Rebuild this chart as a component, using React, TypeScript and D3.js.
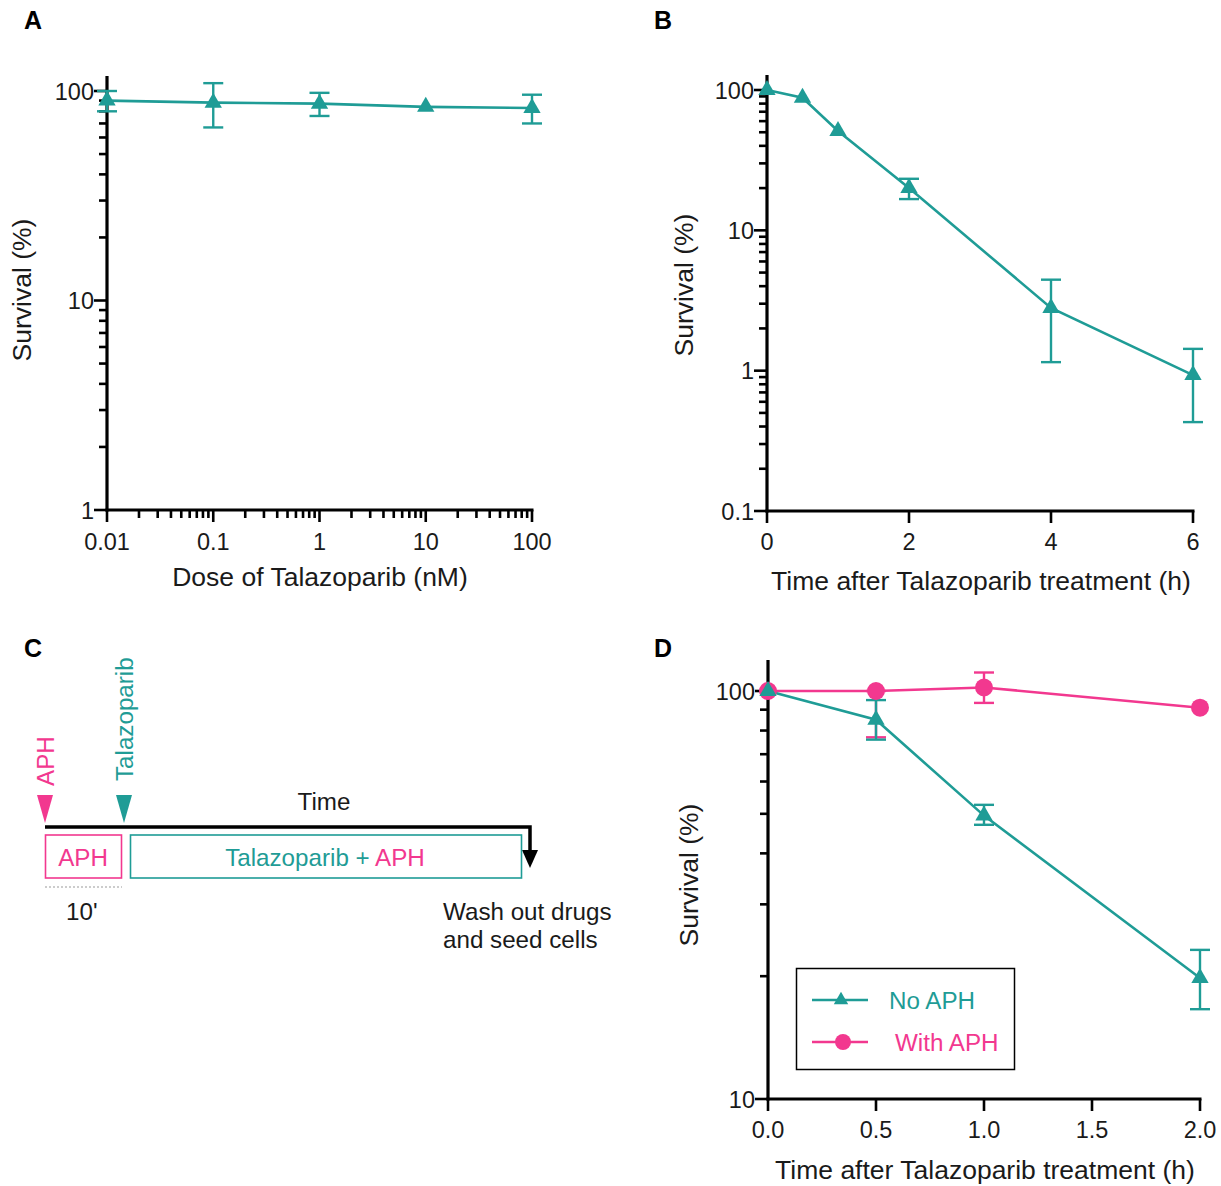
import React from 'react';
import * as d3 from 'd3';

const TEAL = '#1f9c96';
const PINK = '#f2388f';
const INK = '#1a1a1a';
const FONT = "'Liberation Sans', Arial, Helvetica, sans-serif";
const TICK_FS = 23.5;
const LABEL_FS = 26.5;
const TEXT_FS = 24.2;
const LETTER_FS = 25;

// Panel A: dose response
const doseA = [0.01, 0.1, 1, 10, 100];
const survA = [90, 88, 87, 84, 83];
const sdA = [10, 21, 11, 2, 13];
const ticksAx = [0.01, 0.1, 1, 10, 100];
const ticksAy = [1, 10, 100];

// Panel B: time course
const timeB = [0, 0.5, 1, 2, 4, 6];
const survB = [100, 88, 51, 20, 2.8, 0.93];
const sdB = [0, 3, 3, 3.3, 1.65, 0.5];
const ticksBx = [0, 2, 4, 6];
const ticksBy = [0.1, 1, 10, 100];

// Panel D: with / without APH
const timeD = [0, 0.5, 1, 2];
const noAPH = [100, 85, 49.5, 19.8];
const noAPHLow = [100, 76, 47, 16.6];
const noAPHHigh = [100, 95, 52.6, 23.2];
const withAPH = [100, 100, 102, 91];
const withAPHLow = [100, 77, 93.5, 91];
const withAPHHigh = [100, 100, 111, 91];
const ticksDx = [0, 0.5, 1, 1.5, 2];
const ticksDy = [10, 100];
const seriesNames = ['No APH', 'With APH'];

const tri = d3.symbol().type(d3.symbolTriangle).size(130)() as string;
const triSmall = d3.symbol().type(d3.symbolTriangle).size(90)() as string;

function minorLog(lo: number, hi: number) {
  const out: number[] = [];
  for (let e = Math.floor(Math.log10(lo)); e < Math.ceil(Math.log10(hi)); e++) {
    for (let m = 2; m <= 9; m++) {
      const v = m * Math.pow(10, e);
      if (v > lo && v < hi) out.push(v);
    }
  }
  return out;
}

function YLogAxis({ y, x0, ticks, top, labels }: any) {
  const [lo, hi] = [ticks[0], ticks[ticks.length - 1]];
  const minors = minorLog(lo, hi);
  return (
    <g>
      <line x1={x0} x2={x0} y1={top} y2={y(lo) + 1.5} stroke="#000" strokeWidth={3.2} />
      {minors.map((v: number) => (
        <line key={'m' + v} x1={x0 - 8} x2={x0} y1={y(v)} y2={y(v)} stroke="#000" strokeWidth={2.6} />
      ))}
      {ticks.map((v: number, i: number) => (
        <g key={'t' + v}>
          <line x1={x0 - 13} x2={x0} y1={y(v)} y2={y(v)} stroke="#000" strokeWidth={2.6} />
          <text x={x0 - 13} y={y(v) + 8.5} textAnchor="end" fontSize={TICK_FS} fill={INK} fontFamily={FONT}>
            {labels[i]}
          </text>
        </g>
      ))}
    </g>
  );
}

function ErrBar({ x, y1, y2, color }: any) {
  return (
    <g stroke={color} strokeWidth={2.4}>
      <line x1={x} x2={x} y1={y1} y2={y2} />
      <line x1={x - 10} x2={x + 10} y1={y1} y2={y1} />
      <line x1={x - 10} x2={x + 10} y1={y2} y2={y2} />
    </g>
  );
}

function PanelA() {
  const x = d3.scaleLog().domain([0.01, 100]).range([107, 532]);
  const y = d3.scaleLog().domain([1, 100]).range([510, 91]);
  const yb = 510;
  const line = d3.line<number>().x((_, i) => x(doseA[i])).y((d) => y(d));
  const minors = minorLog(0.01, 100);
  return (
    <g>
      <text x={24} y={29} fontSize={LETTER_FS} fontWeight="bold" fontFamily={FONT}>A</text>
      <YLogAxis y={y} x0={107} ticks={ticksAy} top={76} labels={['1', '10', '100']} />
      <line x1={105.5} x2={533.5} y1={yb} y2={yb} stroke="#000" strokeWidth={3.2} />
      {minors.map((v) => (
        <line key={v} x1={x(v)} x2={x(v)} y1={yb} y2={yb + 8} stroke="#000" strokeWidth={2.6} />
      ))}
      {ticksAx.map((v) => (
        <g key={v}>
          <line x1={x(v)} x2={x(v)} y1={yb} y2={yb + 12} stroke="#000" strokeWidth={2.6} />
          <text x={x(v)} y={550} textAnchor="middle" fontSize={TICK_FS} fill={INK} fontFamily={FONT}>{String(v)}</text>
        </g>
      ))}
      <text x={320} y={586} textAnchor="middle" fontSize={LABEL_FS} fill={INK} fontFamily={FONT}>Dose of Talazoparib (nM)</text>
      <text transform="translate(31,290) rotate(-90)" textAnchor="middle" fontSize={LABEL_FS} fill={INK} fontFamily={FONT}>Survival (%)</text>
      <path d={line(survA) as string} fill="none" stroke={TEAL} strokeWidth={2.6} />
      {doseA.map((d, i) => (
        <g key={d}>
          {sdA[i] > 3 && <ErrBar x={x(d)} y1={y(survA[i] + sdA[i])} y2={y(survA[i] - sdA[i])} color={TEAL} />}
          <path d={tri} transform={`translate(${x(d)},${y(survA[i])})`} fill={TEAL} />
        </g>
      ))}
    </g>
  );
}

function PanelB() {
  const x = d3.scaleLinear().domain([0, 6]).range([767, 1193]);
  const y = d3.scaleLog().domain([0.1, 100]).range([511, 90]);
  const yb = 511;
  const line = d3.line<number>().x((_, i) => x(timeB[i])).y((d) => y(d));
  return (
    <g>
      <text x={654} y={29} fontSize={LETTER_FS} fontWeight="bold" fontFamily={FONT}>B</text>
      <YLogAxis y={y} x0={767} ticks={ticksBy} top={75} labels={['0.1', '1', '10', '100']} />
      <line x1={765.5} x2={1194.5} y1={yb} y2={yb} stroke="#000" strokeWidth={3.2} />
      {ticksBx.map((v) => (
        <g key={v}>
          <line x1={x(v)} x2={x(v)} y1={yb} y2={yb + 12} stroke="#000" strokeWidth={2.6} />
          <text x={x(v)} y={550} textAnchor="middle" fontSize={TICK_FS} fill={INK} fontFamily={FONT}>{String(v)}</text>
        </g>
      ))}
      <text x={981} y={590} textAnchor="middle" fontSize={LABEL_FS} fill={INK} fontFamily={FONT}>Time after Talazoparib treatment (h)</text>
      <text transform="translate(693,285) rotate(-90)" textAnchor="middle" fontSize={LABEL_FS} fill={INK} fontFamily={FONT}>Survival (%)</text>
      <path d={line(survB) as string} fill="none" stroke={TEAL} strokeWidth={2.6} />
      {timeB.map((t, i) => (
        <g key={t}>
          {sdB[i] > 3 && <ErrBar x={x(t)} y1={y(survB[i] + sdB[i])} y2={y(survB[i] - sdB[i])} color={TEAL} />}
          {sdB[i] > 0 && sdB[i] <= 3 && survB[i] < 5 && <ErrBar x={x(t)} y1={y(survB[i] + sdB[i])} y2={y(survB[i] - sdB[i])} color={TEAL} />}
          <path d={tri} transform={`translate(${x(t)},${y(survB[i])})`} fill={TEAL} />
        </g>
      ))}
    </g>
  );
}

function PanelC() {
  const x = d3.scaleLinear().domain([0, 1]).range([45, 530]);
  const lineY = 827;
  return (
    <g fontFamily={FONT}>
      <text x={24} y={657} fontSize={LETTER_FS} fontWeight="bold">C</text>
      <text transform="translate(54,786) rotate(-90)" fontSize={TEXT_FS} fill={PINK}>APH</text>
      <text transform="translate(133,781) rotate(-90)" fontSize={TEXT_FS} fill={TEAL}>Talazoparib</text>
      <path d={`M${x(0) - 8},795 L${x(0) + 8},795 L${x(0)},823 Z`} fill={PINK} />
      <path d={`M116,795 L132,795 L124,823 Z`} fill={TEAL} />
      <text x={324} y={810} textAnchor="middle" fontSize={TEXT_FS} fill={INK}>Time</text>
      <path d={`M${x(0)},${lineY} L${x(1)},${lineY} L${x(1)},852`} fill="none" stroke="#000" strokeWidth={3.5} />
      <path d={`M${x(1) - 8},850 L${x(1) + 8},850 L${x(1)},868 Z`} fill="#000" />
      <rect x={45.5} y={835} width={76} height={43} fill="none" stroke={PINK} strokeWidth={1.6} />
      <text x={83} y={866} textAnchor="middle" fontSize={TEXT_FS} fill={PINK}>APH</text>
      <rect x={130.5} y={835} width={391} height={43} fill="none" stroke={TEAL} strokeWidth={1.6} />
      <text x={325} y={866} textAnchor="middle" fontSize={TEXT_FS}>
        <tspan fill={TEAL}>Talazoparib + </tspan>
        <tspan fill={PINK}>APH</tspan>
      </text>
      <line x1={45} x2={122} y1={887} y2={887} stroke="#999" strokeWidth={1.2} strokeDasharray="2,2" />
      <text x={66} y={920} fontSize={TEXT_FS} fill={INK}>10'</text>
      <text x={443} y={920} fontSize={TEXT_FS} fill={INK}>Wash out drugs</text>
      <text x={443} y={948} fontSize={TEXT_FS} fill={INK}>and seed cells</text>
    </g>
  );
}

function PanelD() {
  const x = d3.scaleLinear().domain([0, 2]).range([768, 1200]);
  const y = d3.scaleLog().domain([10, 100]).range([1099, 691]);
  const yb = 1099;
  const lineT = d3.line<number>().x((_, i) => x(timeD[i])).y((d) => y(d));
  const fmt = d3.format('.1f');
  return (
    <g>
      <text x={654} y={657} fontSize={LETTER_FS} fontWeight="bold" fontFamily={FONT}>D</text>
      <YLogAxis y={y} x0={768} ticks={ticksDy} top={660} labels={['10', '100']} />
      <line x1={766.5} x2={1201.5} y1={yb} y2={yb} stroke="#000" strokeWidth={3.2} />
      {ticksDx.map((v) => (
        <g key={v}>
          <line x1={x(v)} x2={x(v)} y1={yb} y2={yb + 12} stroke="#000" strokeWidth={2.6} />
          <text x={x(v)} y={1138} textAnchor="middle" fontSize={TICK_FS} fill={INK} fontFamily={FONT}>{fmt(v)}</text>
        </g>
      ))}
      <text x={985} y={1179} textAnchor="middle" fontSize={LABEL_FS} fill={INK} fontFamily={FONT}>Time after Talazoparib treatment (h)</text>
      <text transform="translate(698,875) rotate(-90)" textAnchor="middle" fontSize={LABEL_FS} fill={INK} fontFamily={FONT}>Survival (%)</text>
      <path d={lineT(withAPH) as string} fill="none" stroke={PINK} strokeWidth={2.6} />
      <path d={lineT(noAPH) as string} fill="none" stroke={TEAL} strokeWidth={2.6} />
      {timeD.map((t, i) => (
        <g key={'w' + t}>
          {withAPHHigh[i] !== withAPHLow[i] && <ErrBar x={x(t)} y1={y(withAPHHigh[i])} y2={y(withAPHLow[i])} color={PINK} />}
        </g>
      ))}
      {timeD.map((t, i) => (
        <g key={'n' + t}>
          {noAPHHigh[i] !== noAPHLow[i] && <ErrBar x={x(t)} y1={y(noAPHHigh[i])} y2={y(noAPHLow[i])} color={TEAL} />}
        </g>
      ))}
      {timeD.map((t, i) => (
        <circle key={'c' + t} cx={x(t)} cy={y(withAPH[i])} r={9} fill={PINK} />
      ))}
      {timeD.map((t, i) => (
        <path key={'p' + t} d={tri} transform={`translate(${x(t)},${y(noAPH[i])})`} fill={TEAL} />
      ))}
      <g fontFamily={FONT}>
        <rect x={796.5} y={968.5} width={218} height={101} fill="#fff" stroke="#000" strokeWidth={1.5} />
        <line x1={812} x2={868} y1={1000} y2={1000} stroke={TEAL} strokeWidth={2.4} />
        <path d={triSmall} transform="translate(841,1000)" fill={TEAL} />
        <text x={889} y={1008.5} fontSize={TEXT_FS} fill={TEAL}>{seriesNames[0]}</text>
        <line x1={812} x2={868} y1={1042} y2={1042} stroke={PINK} strokeWidth={2.4} />
        <circle cx={843} cy={1042} r={8} fill={PINK} />
        <text x={895} y={1050.5} fontSize={TEXT_FS} fill={PINK}>{seriesNames[1]}</text>
      </g>
    </g>
  );
}

export default function App() {
  return (
    <svg width={1221} height={1186} style={{ position: 'absolute', left: 0, top: 0, background: '#fff' }}>
      <rect width={1221} height={1186} fill="#fff" />
      <PanelA />
      <PanelB />
      <PanelC />
      <PanelD />
    </svg>
  );
}
